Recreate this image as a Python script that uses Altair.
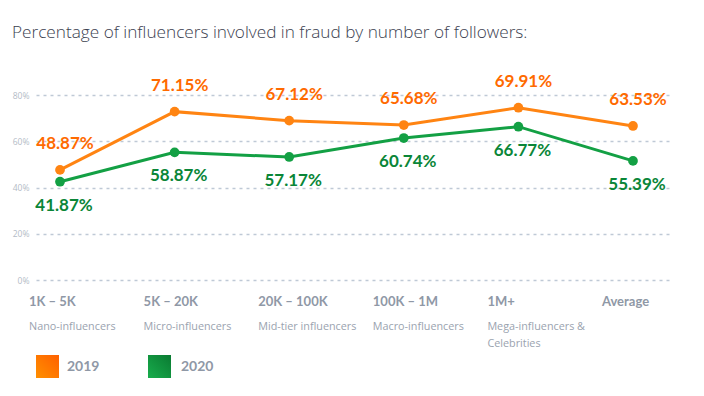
import altair as alt
import pandas as pd

categories = ["1K – 5K", "5K – 20K", "20K – 100K", "100K – 1M", "1M+", "Average"]
tiers = ["Nano-influencers", "Micro-influencers", "Mid-tier influencers",
         "Macro-influencers", "Mega-influencers &\nCelebrities", ""]
values_2019 = [47.6, 72.8, 68.9, 67.0, 74.5, 66.6]
values_2020 = [42.5, 55.2, 53.2, 61.4, 66.3, 51.5]
labels_2019 = ["48.87%", "71.15%", "67.12%", "65.68%", "69.91%", "63.53%"]
labels_2020 = ["41.87%", "58.87%", "57.17%", "60.74%", "66.77%", "55.39%"]
years = ["2019", "2020"]

ORANGE = "#ff8412"
ORANGE_TXT = "#ff6a00"
GREEN = "#13a044"
GREEN_TXT = "#0a8638"
FONT = "Lato"
FONT2 = "Open Sans"

rows = []
for i, c in enumerate(categories):
    rows.append({"cat": c, "year": years[0], "v": values_2019[i], "lab": labels_2019[i], "tier": tiers[i]})
    rows.append({"cat": c, "year": years[1], "v": values_2020[i], "lab": labels_2020[i], "tier": tiers[i]})
df = pd.DataFrame(rows)

W, H = 636, 185
xs = alt.X("cat:N", sort=categories, scale=alt.Scale(type="point", padding=0.275, align=0.381), axis=None)
ys = alt.Y("v:Q", scale=alt.Scale(domain=[0, 80]),
           axis=alt.Axis(values=[0, 20, 40, 60, 80], labelExpr="datum.value + '%'", title=None,
                         domain=False, ticks=False, grid=True, gridDash=[3, 4], gridColor="#bfc9d6",
                         gridWidth=1.3, labelColor="#b3bbc6", labelFontSize=8.5, labelFont=FONT2,
                         labelPadding=7))
color = alt.Color("year:N", scale=alt.Scale(domain=years, range=[ORANGE, GREEN]), legend=None)

base = alt.Chart(df)
lines = base.mark_line(strokeWidth=3).encode(x=xs, y=ys, color=color, detail="year:N")
pts = base.mark_circle(size=95, opacity=1).encode(x=xs, y="v:Q", color=color)

lab19 = base.transform_filter(alt.datum.year == "2019").mark_text(
    font=FONT, fontSize=17, fontWeight="bold", color=ORANGE_TXT, dx=5, dy=-26, baseline="middle"
).encode(x=xs, y="v:Q", text="lab:N")
lab20 = base.transform_filter(alt.datum.year == "2020").mark_text(
    font=FONT, fontSize=17, fontWeight="bold", color=GREEN_TXT, dx=4, dy=24, baseline="middle"
).encode(x=xs, y="v:Q", text="lab:N")

cat_df = pd.DataFrame({"cat": categories, "tier": tiers})
cat_lab = alt.Chart(cat_df).mark_text(
    font=FONT, fontSize=13, fontWeight="bold", color="#8f98a6", align="left", baseline="middle", dx=-31
).encode(x=xs, y=alt.value(207), text="cat:N")
tier_lab = alt.Chart(cat_df).mark_text(
    font=FONT2, fontSize=10.8, color="#9aa3af", align="left", baseline="top", dx=-31, lineBreak="\n",
    lineHeight=17
).encode(x=xs, y=alt.value(226), text="tier:N")

title = alt.Chart(pd.DataFrame({"t": ["Percentage of influencers involved in fraud by number of followers:"]})).mark_text(
    font=FONT2, fontSize=17.2, fontWeight=300, color="#3b4150", align="left", baseline="middle"
).encode(x=alt.value(-24), y=alt.value(-62), text="t:N")

g19 = alt.Gradient(gradient="linear", x1=0, y1=1, x2=1, y2=0,
                   stops=[alt.GradientStop(color="#ff9000", offset=0), alt.GradientStop(color="#ff6000", offset=1)])
g20 = alt.Gradient(gradient="linear", x1=0, y1=1, x2=1, y2=0,
                   stops=[alt.GradientStop(color="#18ad4c", offset=0), alt.GradientStop(color="#0a7a32", offset=1)])
leg_df = pd.DataFrame({"year": years})
sq19 = alt.Chart(leg_df).transform_filter(alt.datum.year == "2019").mark_rect(color=g19).encode(
    x=alt.value(0), x2=alt.value(23), y=alt.value(260), y2=alt.value(283))
sq20 = alt.Chart(leg_df).transform_filter(alt.datum.year == "2020").mark_rect(color=g20).encode(
    x=alt.value(112), x2=alt.value(135), y=alt.value(260), y2=alt.value(283))
leg_txt19 = alt.Chart(leg_df).transform_filter(alt.datum.year == "2019").mark_text(
    font=FONT, fontSize=14, fontWeight="bold", color="#8f98a6", align="left", baseline="middle"
).encode(x=alt.value(31), y=alt.value(272), text="year:N")
leg_txt20 = alt.Chart(leg_df).transform_filter(alt.datum.year == "2020").mark_text(
    font=FONT, fontSize=14, fontWeight="bold", color="#8f98a6", align="left", baseline="middle"
).encode(x=alt.value(145), y=alt.value(272), text="year:N")

chart = alt.layer(lines, pts, lab19, lab20, cat_lab, tier_lab, title, sq19, sq20, leg_txt19, leg_txt20).properties(
    width=W, height=H,
    background="white",
    autosize=alt.AutoSizeParams(type="none"),
    padding={"left": 28, "top": 87, "right": 24, "bottom": 108},
).configure_view(strokeWidth=0, stroke=None)

chart.save("out.html", embed_options={"renderer": "svg", "actions": False})
